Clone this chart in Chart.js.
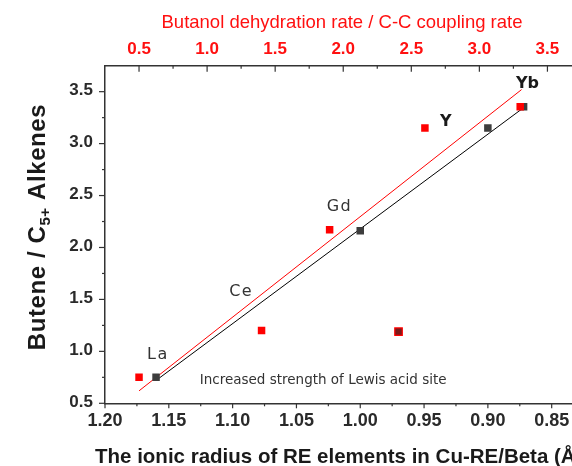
<!DOCTYPE html>
<html>
<head>
  <meta charset="utf-8">
  <script src="https://cdn.jsdelivr.net/npm/chart.js"></script>
  <style>
    html, body { margin: 0; padding: 0; overflow: hidden; background: #fff; }
    #wrap { width: 622px; height: 466px; }
  </style>
</head>
<body>
  <div id="wrap"><canvas id="myChart"></canvas></div>

  <script>
    // black squares: ionic radius (bottom axis) vs Butene / C5+ alkenes
    const radiusX = [1.16, 0.97, 1.00, 0.90, 0.872];
    const radiusY = [0.75, 1.19, 2.16, 3.15, 3.355];
    // red squares: dehydration / coupling rate (top axis) vs the same ratio
    const rateX = [0.50, 1.40, 1.90, 2.60, 3.30];
    const rateY = [0.75, 1.20, 2.17, 3.15, 3.355];

    // straight-line fits
    const radiusFitX = [1.16, 0.871];
    const radiusFitY = [0.72, 3.355];
    const rateFitX = [0.50, 3.31];
    const rateFitY = [0.62, 3.52];

    // tick labels
    const bottomTicks = [1.20, 1.15, 1.10, 1.05, 1.00, 0.95, 0.90, 0.85];
    const topTicks = [0.5, 1.0, 1.5, 2.0, 2.5, 3.0, 3.5];
    const leftTicks = [0.5, 1.0, 1.5, 2.0, 2.5, 3.0, 3.5];

    // element labels, placed in ionic radius / ratio units
    const elements = ['La', 'Ce', 'Gd', 'Y', 'Yb'];
    const elementX = [1.1585, 1.0933, 1.0163, 0.933, 0.869];
    const elementY = [0.965, 1.571, 2.392, 3.214, 3.58];

    const FONT = "'Liberation Sans', Arial, sans-serif";
    const VFONT = "'DejaVu Sans', Verdana, sans-serif";

    const toPoints = (xs, ys) => xs.map((x, i) => ({ x: x, y: ys[i] }));

    // Ticks, tick labels and all the text
    const extras = {
      id: 'extras',
      afterDraw(chart) {
        const ctx = chart.ctx;
        const area = chart.chartArea;
        const xb = chart.scales.x, xt = chart.scales.x2, ys = chart.scales.y;
        ctx.save();
        ctx.strokeStyle = '#333';
        ctx.lineWidth = 1.2;
        const seg = (x1, y1, x2, y2) => {
          ctx.beginPath(); ctx.moveTo(x1, y1); ctx.lineTo(x2, y2); ctx.stroke();
        };

        // left ticks
        leftTicks.forEach(v => {
          const y = ys.getPixelForValue(v);
          seg(area.left - 6, y, area.left, y);
          if (v + 0.25 < ys.max) {
            const ym = ys.getPixelForValue(v + 0.25);
            seg(area.left - 3, ym, area.left, ym);
          }
        });
        // bottom ticks (outside)
        bottomTicks.forEach(v => {
          const x = xb.getPixelForValue(v);
          seg(x, area.bottom, x, area.bottom + 5);
          const xm = xb.getPixelForValue(v - 0.025);
          seg(xm, area.bottom, xm, area.bottom + 3);
        });
        // top ticks (inside)
        topTicks.forEach(v => {
          const x = xt.getPixelForValue(v);
          seg(x, area.top, x, area.top + 6);
          const xm = xt.getPixelForValue(v + 0.25);
          seg(xm, area.top, xm, area.top + 3);
        });

        // tick labels
        ctx.fillStyle = '#2a2a2a';
        ctx.font = 'bold 17px ' + FONT;
        ctx.textAlign = 'right';
        ctx.textBaseline = 'middle';
        leftTicks.forEach(v => {
          ctx.fillText(v.toFixed(1), area.left - 12, ys.getPixelForValue(v) - 1);
        });
        ctx.font = 'bold 18px ' + FONT;
        ctx.textAlign = 'center';
        ctx.textBaseline = 'alphabetic';
        bottomTicks.forEach(v => {
          ctx.fillText(v.toFixed(2), xb.getPixelForValue(v), area.bottom + 23);
        });
        ctx.fillStyle = '#ff1010';
        ctx.font = 'bold 17px ' + FONT;
        topTicks.forEach(v => {
          ctx.fillText(v.toFixed(1), xt.getPixelForValue(v), 54);
        });

        // axis titles
        ctx.font = '18.5px ' + FONT;
        ctx.fillText('Butanol dehydration rate / C-C coupling rate', 342, 28);

        ctx.fillStyle = '#1a1a1a';
        ctx.font = 'bold 20.5px ' + FONT;
        ctx.textAlign = 'left';
        ctx.fillText('The ionic radius of RE elements in Cu-RE/Beta (\u00c5)', 95, 463);

        // rotated y title with subscript
        ctx.save();
        ctx.translate(45, 227);
        ctx.rotate(-Math.PI / 2);
        ctx.letterSpacing = '0.6px';
        const big = 'bold 24px ' + FONT, small = 'bold 15px ' + FONT;
        const p1 = 'Butene / C', p2 = '5+', p3 = ' Alkenes';
        ctx.font = big;
        const w1 = ctx.measureText(p1).width, w3 = ctx.measureText(p3).width;
        ctx.font = small;
        const w2 = ctx.measureText(p2).width;
        let sx = -(w1 + w2 + w3) / 2;
        ctx.font = big; ctx.fillText(p1, sx, 0); sx += w1;
        ctx.font = small; ctx.fillText(p2, sx, 5); sx += w2;
        ctx.font = big; ctx.fillText(p3, sx, 0);
        ctx.restore();

        // element labels
        ctx.textAlign = 'center';
        ctx.textBaseline = 'middle';
        elements.forEach((el, i) => {
          const strong = el === 'Y' || el === 'Yb';
          ctx.font = (strong ? 'bold ' : '') + '16px ' + VFONT;
          ctx.fillStyle = strong ? '#1a1a1a' : '#333';
          ctx.letterSpacing = strong ? '0px' : '1.5px';
          ctx.fillText(el, xb.getPixelForValue(elementX[i]), ys.getPixelForValue(elementY[i]));
        });
        ctx.letterSpacing = '0px';

        ctx.font = '13.5px ' + VFONT;
        ctx.fillStyle = '#333';
        ctx.textAlign = 'left';
        ctx.fillText('Increased strength of Lewis acid site', xb.getPixelForValue(1.1258), ys.getPixelForValue(0.724));
        ctx.restore();
      }
    };

    const ctx = document.getElementById('myChart').getContext('2d');
    new Chart(ctx, {
      type: 'scatter',
      data: {
        datasets: [
          {
            label: 'rate',
            data: toPoints(rateX, rateY),
            xAxisID: 'x2',
            order: 0,
            pointStyle: 'rect',
            pointRadius: 5.3,
            pointBorderWidth: 0,
            backgroundColor: '#ff0000',
            borderColor: '#ff0000'
          },
          {
            label: 'radius',
            data: toPoints(radiusX, radiusY),
            xAxisID: 'x',
            order: 1,
            pointStyle: 'rect',
            pointRadius: 5.3,
            pointBackgroundColor: ['#3d3d3d', '#7a1a1a', '#3d3d3d', '#3d3d3d', '#3d3d3d'],
            pointBorderColor: ['#3d3d3d', '#ff0000', '#3d3d3d', '#3d3d3d', '#3d3d3d'],
            pointBorderWidth: [0, 1.2, 0, 0, 0]
          },
          {
            label: 'rate fit',
            data: toPoints(rateFitX, rateFitY),
            xAxisID: 'x2',
            order: 2,
            showLine: true,
            pointRadius: 0,
            borderColor: '#ff0000',
            borderWidth: 1
          },
          {
            label: 'radius fit',
            data: toPoints(radiusFitX, radiusFitY),
            xAxisID: 'x',
            order: 3,
            showLine: true,
            pointRadius: 0,
            borderColor: '#000000',
            borderWidth: 1
          }
        ]
      },
      options: {
        responsive: true,
        maintainAspectRatio: false,
        animation: false,
        devicePixelRatio: 1,
        layout: { padding: 0 },
        plugins: { legend: { display: false }, tooltip: { enabled: false } },
        scales: {
          x: {
            type: 'linear',
            position: 'bottom',
            reverse: true,
            min: 0.80,
            max: 1.20,
            grid: { display: false },
            border: { color: '#333', width: 1.5 },
            ticks: { display: false },
            afterFit: s => { s.height = 62.7; }
          },
          x2: {
            type: 'linear',
            position: 'top',
            min: 0.25,
            max: 4.0,
            grid: { display: false },
            border: { color: '#333', width: 1.5 },
            ticks: { display: false },
            afterFit: s => { s.height = 65.7; }
          },
          y: {
            type: 'linear',
            position: 'left',
            min: 0.5,
            max: 3.75,
            grid: { display: false },
            border: { color: '#333', width: 1.5 },
            ticks: { display: false },
            afterFit: s => { s.height; s.width = 105; }
          }
        }
      },
      plugins: [extras]
    });
  </script>
</body>
</html>
